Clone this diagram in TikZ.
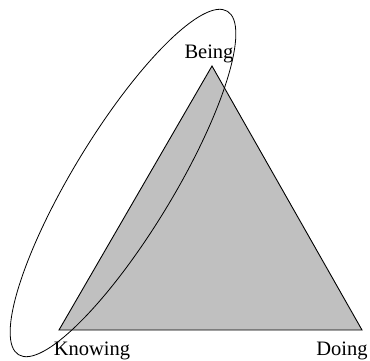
\documentclass[tikz,border=0pt]{standalone}
\usepackage{fontspec}
\setmainfont{Liberation Serif}
\usetikzlibrary{calc}
\tikzset{
  corner/.style={font=\fontsize{20.5}{24}\selectfont,inner sep=0pt,anchor=base},
}
\begin{document}
\begin{tikzpicture}[x=1pt,y=1pt]
  \useasboundingbox (0,0) rectangle (370,360);
  % corners of the triangle
  \coordinate (kn) at (59,30);
  \coordinate (be) at (212,294);
  \coordinate (do) at (362,30);
  \filldraw[fill={rgb,255:red,192;green,192;blue,192},draw=black,line width=0.9pt,line join=miter]
    (kn) -- (be) -- (do) -- cycle;
  \draw[line width=0.8pt] (123,177) ellipse[x radius=201,y radius=50,rotate=58.7];
  \node[corner] (being) at (209,302) {Being};
  \node[corner] (knowing) at (92,5) {Knowing};
  \node[corner] (doing) at (342,5) {Doing};
\end{tikzpicture}
\end{document}
